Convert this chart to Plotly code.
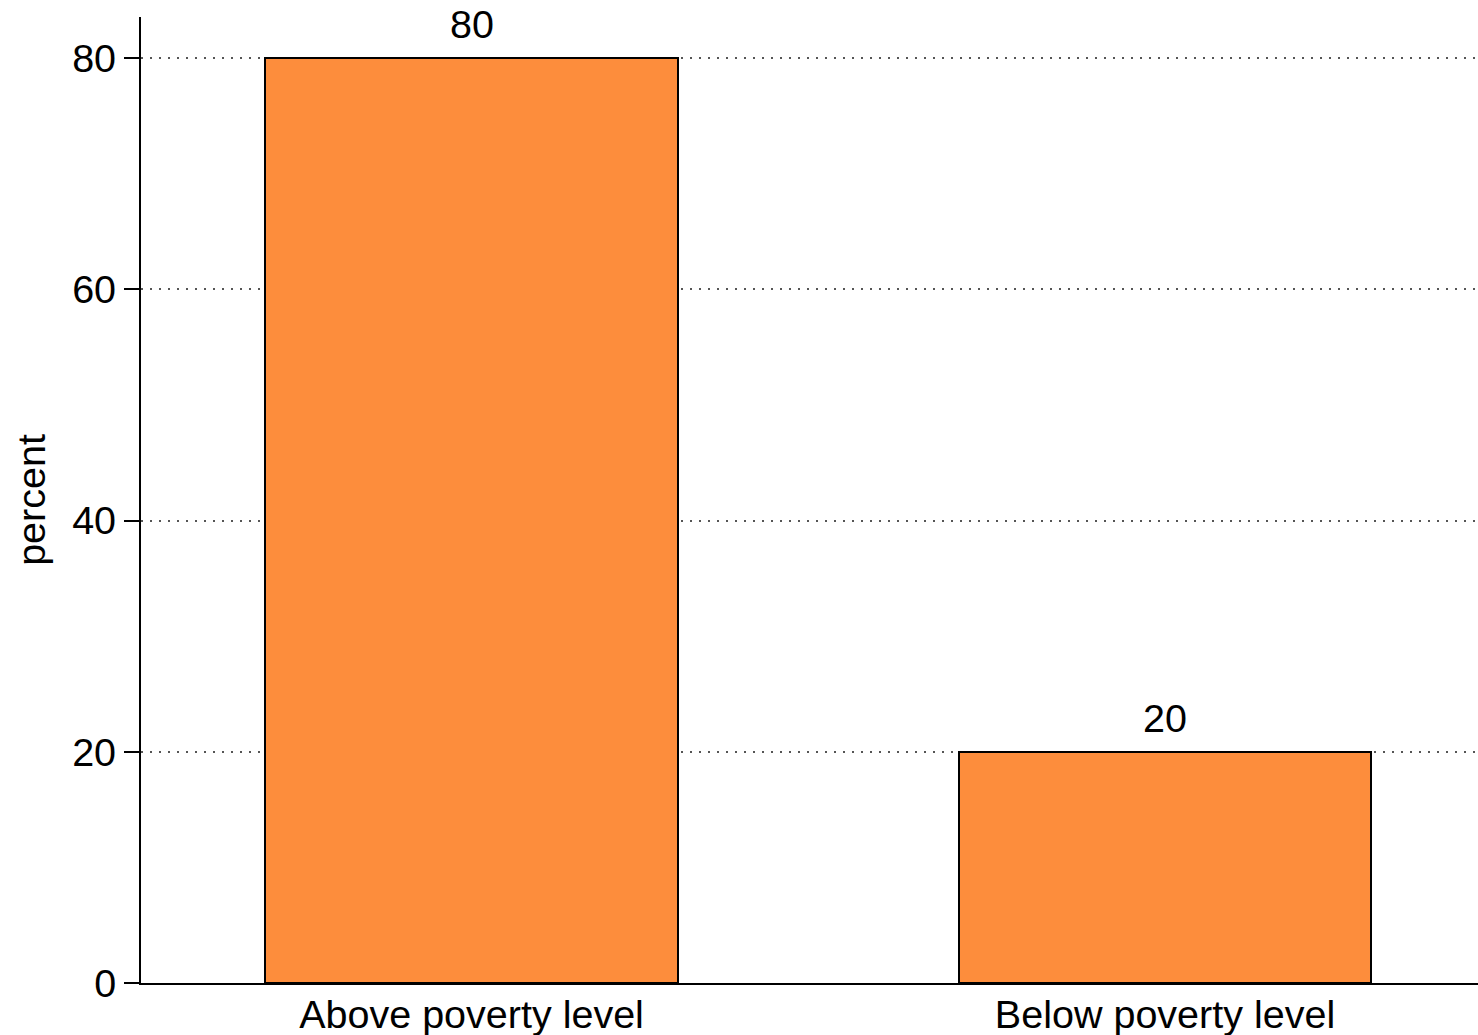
import plotly.graph_objects as go

categories = ["Above poverty level", "Below poverty level"]
values = [80, 20]
y_ticks = [0, 20, 40, 60, 80]
y_title = "percent"

FONT = "Liberation Sans, Arial, sans-serif"
FS = 39.5

fig = go.Figure()
fig.add_trace(go.Bar(
    x=[0, 1],
    y=values,
    width=0.595,
    marker=dict(color="#fd8d3c", line=dict(color="black", width=2)),
    cliponaxis=False,
    showlegend=False,
))
for i, v in enumerate(values):
    fig.add_annotation(
        x=i, y=v, text=str(v), showarrow=False,
        xanchor="center", yanchor="bottom", yshift=10,
        font=dict(size=FS, color="black", family=FONT),
    )

fig.update_layout(
    width=1478, height=1035,
    margin=dict(l=141, r=0, t=17, b=52, autoexpand=False),
    paper_bgcolor="white", plot_bgcolor="white",
    font=dict(family=FONT, size=FS, color="black"),
    bargap=0,
)
fig.update_xaxes(
    range=[-0.4766, 1.4513], automargin=False,
    tickmode="array", tickvals=[0, 1], ticktext=categories,
    ticks="", showgrid=False, zeroline=False,
    showline=True, linecolor="black", linewidth=2,
    tickfont=dict(size=FS), ticklabelstandoff=-4,
)
fig.update_yaxes(
    range=[0, 83.55], automargin=False,
    tickmode="array", tickvals=y_ticks,
    ticks="outside", ticklen=15, tickwidth=2, tickcolor="black",
    showgrid=True, gridcolor="#555555", gridwidth=1.5, griddash="1.5px,7.5px",
    zeroline=False,
    showline=True, linecolor="black", linewidth=2,
    tickfont=dict(size=FS),
    title=dict(text=y_title, font=dict(size=FS), standoff=14),
)

fig.write_html(
    "out.html",
    config={"displayModeBar": False},
    post_script="document.body.style.margin='0';document.body.style.padding='0';",
)
